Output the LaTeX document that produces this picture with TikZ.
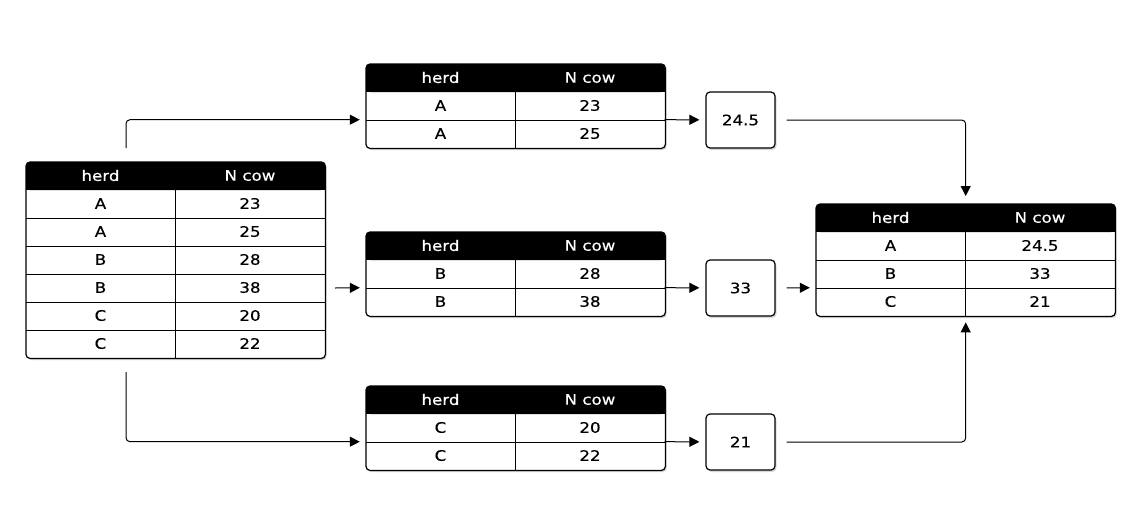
\documentclass[tikz,border=0pt]{standalone}
\usepackage{fontspec}
\setmainfont{DejaVu Sans}[FakeStretch=1.15, FakeBold=0.4]
\usetikzlibrary{arrows.meta,shadows}
\tikzset{
  shade/.style={drop shadow={shadow xshift=1.5pt, shadow yshift=-2pt, opacity=0.3}},
  frame/.style={fill=white, rounded corners=4pt, minimum width=299, inner sep=0pt, shade},
  outline/.style={line width=1.2pt, rounded corners=4pt},
  rule/.style={line width=1pt},
  cell/.style={minimum width=149, minimum height=28, inner sep=0pt},
  hdr/.style={cell, text=white},
  mean/.style={draw, line width=1.2pt, fill=white, rounded corners=4pt, minimum width=69, minimum height=56, inner sep=0pt, shade},
  flow/.style={-{Triangle[length=10pt,width=10pt]}, line width=1pt, rounded corners=4pt, shorten >=6pt}
}
\begin{document}
\begin{tikzpicture}[x=1pt, y=-1pt, font=\fontsize{14.5}{17}\selectfont]
    \fill[white] (0,0) rectangle (1140,504);
    \useasboundingbox (0,0) rectangle (1140,504);
    % tables
    \foreach \t/\x/\y/\n in {src/26/162/6, ta/366/64/2, tb/366/232/2, tc/366/386/2, res/816/204/3} {
      \node[frame, minimum height=28+28*\n, anchor=north west] (\t) at (\x,\y) {};
      \fill[rounded corners=4pt] (\t.north west) rectangle ++(299,28);
      \fill (\t.north west) ++(0,14) rectangle ++(299,14);
      \foreach \k in {2,...,\n}
      \draw[rule] (\x,\y+28*\k) -- (\x+299,\y+28*\k);
      \draw[rule] (\x+149,\y+28) -- (\x+149,\y+28+28*\n);
      \draw[outline] (\t.north west) rectangle (\t.south east);
      \node[hdr] (\t-hh) at (\x+74.5,\y+13.5) {herd};
      \node[hdr] (\t-hn) at (\x+224,\y+13.5) {N cow};
    }
    \foreach \t/\k/\h/\v in {src/1/A/23, src/2/A/25, src/3/B/28, src/4/B/38, src/5/C/20, src/6/C/22,
      ta/1/A/23, ta/2/A/25, tb/1/B/28, tb/2/B/38, tc/1/C/20, tc/2/C/22,
      res/1/A/24.5, res/2/B/33, res/3/C/21} {
      \node[cell, yshift={-28*\k}] (\t-a\k) at (\t-hh) {\h};
      \node[cell, yshift={-28*\k}] (\t-b\k) at (\t-hn) {\v};
    }
    % means
    \node[mean] (ma) at (740.5,120) {24.5};
    \node[mean] (mb) at (740.5,288) {33};
    \node[mean] (mc) at (740.5,442) {21};
    % split
    \coordinate (s1) at (126,148);
    \coordinate (s2) at (335,288);
    \coordinate (s3) at (126,372);
    \draw[flow] (s1) |- (ta-a1.south west);
    \draw[flow] (s2) -- (tb-a1.south west);
    \draw[flow] (s3) |- (tc-a1.south west);
    % apply
    \draw[flow] (ta-b1.south east) -- (ma);
    \draw[flow] (tb-b1.south east) -- (mb);
    \draw[flow] (tc-b1.south east) -- (mc);
    % combine
    \draw[flow, shorten <=11pt, shorten >=8pt] (ma) -| (res.north);
    \draw[flow, shorten <=11pt] (mb) -- (res-a2.south west);
    \draw[flow, shorten <=11pt] (mc) -| (res.south);
\end{tikzpicture}
\end{document}
